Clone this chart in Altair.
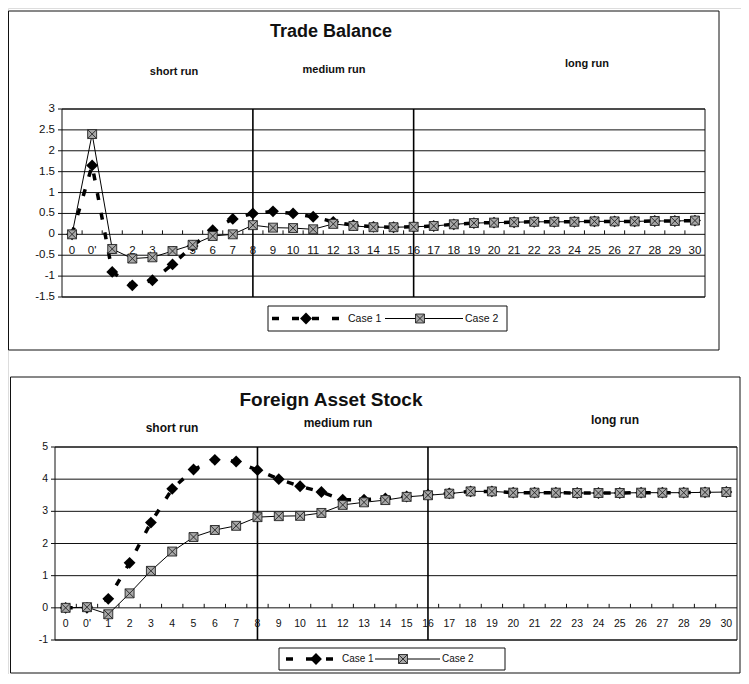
import altair as alt
import pandas as pd

# ---------------- data ----------------
periods = ["0", "0'"] + [str(i) for i in range(1, 31)]

tb_case1 = [0, 1.65, -0.9, -1.22, -1.1, -0.72, -0.28, 0.1, 0.37, 0.5, 0.55, 0.5, 0.42, 0.3, 0.22, 0.18,
            0.17, 0.18, 0.2, 0.24, 0.27, 0.28, 0.29, 0.3, 0.3, 0.3, 0.31, 0.31, 0.31, 0.32, 0.32, 0.33]
tb_case2 = [0, 2.4, -0.35, -0.58, -0.55, -0.4, -0.25, -0.04, 0.0, 0.22, 0.16, 0.15, 0.12, 0.25, 0.2, 0.17,
            0.17, 0.18, 0.2, 0.24, 0.27, 0.28, 0.29, 0.3, 0.3, 0.3, 0.31, 0.31, 0.31, 0.32, 0.32, 0.33]
fa_case1 = [0, 0, 0.28, 1.4, 2.65, 3.7, 4.3, 4.6, 4.55, 4.28, 4.0, 3.78, 3.6, 3.36, 3.36, 3.4,
            3.46, 3.52, 3.56, 3.62, 3.62, 3.58, 3.58, 3.58, 3.57, 3.57, 3.57, 3.58, 3.58, 3.58, 3.59, 3.6]
fa_case2 = [0, 0.02, -0.2, 0.45, 1.15, 1.75, 2.2, 2.42, 2.55, 2.82, 2.85, 2.86, 2.95, 3.2, 3.28, 3.35,
            3.45, 3.5, 3.55, 3.62, 3.62, 3.58, 3.58, 3.58, 3.57, 3.57, 3.57, 3.58, 3.58, 3.58, 3.59, 3.6]

tb_ticks = [3, 2.5, 2, 1.5, 1, 0.5, 0, -0.5, -1, -1.5]
fa_ticks = [5, 4, 3, 2, 1, 0, -1]
divider_periods = ["8", "16"]
series_names = ["Case 1", "Case 2"]
tb_title = "Trade Balance"
fa_title = "Foreign Asset Stock"
phase_names = ["short run", "medium run", "long run"]

# ---------------- helpers ----------------
FONT = "Liberation Sans"
CASE2_SHAPE = "M-1,-1L1,-1L1,1L-1,1ZM-1,-1L1,1M1,-1L-1,1"
DASH = [7, 13]

idx = list(range(len(periods)))


def sc(domain, rng):
    return alt.Scale(domain=domain, range=rng, nice=False, zero=False)


TBX = sc([-0.5, 31.5], [54, 697])
TBY = sc([-1.5, 3], [289, 101])
FAX = sc([-0.5, 31.5], [47, 729])
FAY = sc([-1, 5], [632, 439])

one = pd.DataFrame({"a": [0]})


def xd(v, s):
    return alt.X(datum=v, type="quantitative", scale=s, axis=None)


def yd(v, s):
    return alt.Y(datum=v, type="quantitative", scale=s, axis=None)


def panel(values1, values2, ticks, X, Y, ymin, ymax, label_font, label_dy, ylab_font):
    df1 = pd.DataFrame({"i": idx, "period": periods, "v": values1})
    df2 = pd.DataFrame({"i": idx, "period": periods, "v": values2})
    tick_df = pd.DataFrame({"v": ticks, "lab": [f"{t:g}" for t in ticks]})
    div_df = pd.DataFrame({"i": [periods.index(p) for p in divider_periods]})
    xt_df = pd.DataFrame({"b": [i + 0.5 for i in range(len(periods) - 1)]})

    grid = alt.Chart(tick_df).mark_rule(color="#111", strokeWidth=1, xOffset=-4).encode(
        x=xd(-0.5, X), x2=alt.X2(datum=31.5), y=alt.Y("v:Q", scale=Y, axis=None))
    ylabels = alt.Chart(tick_df).mark_text(align="right", baseline="middle", dx=-7,
                                           font=FONT, fontSize=ylab_font, color="#111").encode(
        x=xd(-0.5, X), y=alt.Y("v:Q", scale=Y, axis=None), text="lab:N")
    border = alt.Chart(one).mark_rect(fillOpacity=0, stroke="#111", strokeWidth=1).encode(
        x=xd(-0.5, X), x2=alt.X2(datum=31.5), y=yd(ymin, Y), y2=alt.Y2(datum=ymax))
    dividers = alt.Chart(div_df).mark_rule(color="#000", strokeWidth=1.6).encode(
        x=alt.X("i:Q", scale=X, axis=None), y=yd(ymin, Y), y2=alt.Y2(datum=ymax))
    xticks = alt.Chart(xt_df).mark_rule(color="#111", strokeWidth=1, y2Offset=-4).encode(
        x=alt.X("b:Q", scale=X, axis=None), y=yd(0, Y), y2=alt.Y2(datum=0))
    xlabels = alt.Chart(df1).mark_text(baseline="middle", dy=label_dy, font=FONT,
                                       fontSize=label_font, color="#111").encode(
        x=alt.X("i:Q", scale=X, axis=None), y=yd(0, Y), text="period:N")
    line1 = alt.Chart(df1).mark_line(color="#000", strokeWidth=3.5, strokeDash=DASH).encode(
        x=alt.X("i:Q", scale=X, axis=None), y=alt.Y("v:Q", scale=Y, axis=None))
    pts1 = alt.Chart(df1).mark_point(shape="diamond", filled=True, color="#000", size=140, opacity=1).encode(
        x=alt.X("i:Q", scale=X, axis=None), y=alt.Y("v:Q", scale=Y, axis=None))
    line2 = alt.Chart(df2).mark_line(color="#000", strokeWidth=1).encode(
        x=alt.X("i:Q", scale=X, axis=None), y=alt.Y("v:Q", scale=Y, axis=None))
    pts2 = alt.Chart(df2).mark_point(shape=CASE2_SHAPE, filled=True, fill="#a8a8a8", stroke="#222",
                                     strokeWidth=0.9, size=80, opacity=1).encode(
        x=alt.X("i:Q", scale=X, axis=None), y=alt.Y("v:Q", scale=Y, axis=None))
    return [grid, ylabels, border, dividers, xticks, xlabels, line1, pts1, line2, pts2]


def text_at(txt, x, y, size, bold=False):
    return alt.Chart(pd.DataFrame({"t": [txt]})).mark_text(
        font=FONT, fontSize=size, fontWeight="bold" if bold else "normal", color="#111",
        align="center", baseline="middle").encode(x=alt.value(x), y=alt.value(y), text="t:N")


def frame(x1, x2, y1, y2, width=1):
    return alt.Chart(one).mark_rect(fillOpacity=0, stroke="#111", strokeWidth=width).encode(
        x=alt.value(x1), x2=alt.value(x2), y=alt.value(y1), y2=alt.value(y2))


def legend(bx1, bx2, by1, by2, l1a, l1b, d1, t1, l2a, l2b, m2, t2, fs):
    ym = (by1 + by2) / 2
    names = pd.DataFrame({"t": series_names})
    parts = [
        frame(bx1, bx2, by1, by2),
        alt.Chart(one).mark_rule(color="#000", strokeWidth=3.5, strokeDash=DASH).encode(
            x=alt.value(l1a), x2=alt.value(l1b), y=alt.value(ym)),
        alt.Chart(one).mark_point(shape="diamond", filled=True, color="#000", size=140, opacity=1).encode(
            x=alt.value(d1), y=alt.value(ym)),
        alt.Chart(one).mark_rule(color="#000", strokeWidth=1).encode(
            x=alt.value(l2a), x2=alt.value(l2b), y=alt.value(ym)),
        alt.Chart(one).mark_point(shape=CASE2_SHAPE, filled=True, fill="#a8a8a8", stroke="#222",
                                  strokeWidth=0.9, size=80, opacity=1).encode(
            x=alt.value(m2), y=alt.value(ym)),
        alt.Chart(names.iloc[[0]]).mark_text(font=FONT, fontSize=fs, align="left", baseline="middle",
                                             color="#111").encode(x=alt.value(t1), y=alt.value(ym), text="t:N"),
        alt.Chart(names.iloc[[1]]).mark_text(font=FONT, fontSize=fs, align="left", baseline="middle",
                                             color="#111").encode(x=alt.value(t2), y=alt.value(ym), text="t:N"),
    ]
    return parts


layers = []
# frames
layers.append(frame(0.5, 711, 3, 342))
layers.append(frame(2.5, 732, 369, 665))
# top panel
layers += panel(tb_case1, tb_case2, tb_ticks, TBX, TBY, -1.5, 3, 11.5, 17, 11.5)
layers.append(text_at(tb_title, 323, 24, 18, bold=True))
layers.append(text_at(phase_names[0], 166, 64, 11, bold=True))
layers.append(text_at(phase_names[1], 326, 62, 11, bold=True))
layers.append(text_at(phase_names[2], 579, 56, 11, bold=True))
layers += legend(260, 499, 298, 323, 264, 332, 298, 340, 377, 455, 412, 457, 10.5)
# bottom panel
layers += panel(fa_case1, fa_case2, fa_ticks, FAX, FAY, -1, 5, 10.5, 16, 10.5)
layers.append(text_at(fa_title, 323, 392, 19, bold=True))
layers.append(text_at(phase_names[0], 164, 420, 12, bold=True))
layers.append(text_at(phase_names[1], 330, 415, 12, bold=True))
layers.append(text_at(phase_names[2], 607, 412, 12, bold=True))
layers += legend(271, 497, 640, 662, 278, 329, 308, 334, 367, 432, 395, 434, 10)

chart = alt.layer(*layers).resolve_scale(x="independent", y="independent").properties(
    width=733, height=666, padding=0,
    autosize=alt.AutoSizeParams(type="none"),
).configure_view(stroke=None).configure(background="white")

chart.save("out.html", embed_options={"renderer": "svg", "actions": False})
